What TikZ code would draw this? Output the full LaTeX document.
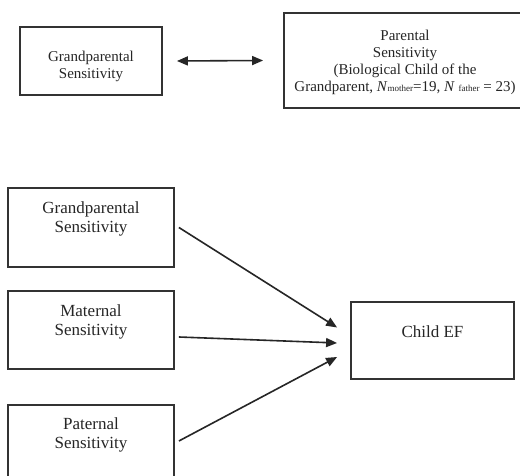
\documentclass[tikz,border=0pt]{standalone}
\usepackage{fontspec}
\setmainfont{Liberation Serif}
\usetikzlibrary{arrows.meta,calc}
\begin{document}
\begin{tikzpicture}[x=1pt,y=1pt,
  box/.style={draw=black!80, line width=1.8pt, inner sep=0pt, fill=none},
  txtsmall/.style={align=center, inner sep=0pt, text=black!85, font=\fontsize{15}{17}\selectfont},
  txtbig/.style={align=center, inner sep=0pt, text=black!85, font=\fontsize{17}{19.5}\selectfont},
  arr/.style={draw=black!85, line width=1.6pt, -{Triangle[length=11pt,width=9pt]}},
  darr/.style={draw=black!85, line width=1.6pt, {Triangle[length=11pt,width=9pt]}-{Triangle[length=11pt,width=9pt]}}
]
\useasboundingbox (0,0) rectangle (520,476);
\clip (0,0) rectangle (520,476);
\fill[white] (0,0) rectangle (520,476);
% top row
\node[box, minimum width=142pt, minimum height=68pt] (tl) at (91,415) {};
\node[txtsmall] (tlt) at (91,410) {Grandparental\\Sensitivity};
\node[box, minimum width=242pt, minimum height=95pt] (tr) at (405,415.5) {};
\node[txtsmall] (trt) at (405,414) {Parental\\Sensitivity\\(Biological Child of the\\Grandparent, \textit{N}{\fontsize{9}{9}\selectfont mother}=19, \textit{N} {\fontsize{9}{9}\selectfont father} = 23)};
\draw[darr] ([xshift=14pt]tl.east) -- ([xshift=-20pt]tr.west);
% bottom
\node[box, minimum width=166pt, minimum height=79pt] (gp) at (91,248.5) {};
\node[txtbig] (gpt) at (91,257) {Grandparental\\Sensitivity};
\node[box, minimum width=166pt, minimum height=78pt] (mat) at (91,146) {};
\node[txtbig] (matt) at (91,154) {Maternal\\Sensitivity};
\node[box, minimum width=166pt, minimum height=79pt] (pat) at (91,31.5) {};
\node[txtbig] (patt) at (91,41) {Paternal\\Sensitivity};
\node[box, minimum width=163pt, minimum height=77pt] (ef) at (432.5,135.5) {};
\node[txtbig] (eft) at (432.5,144) {Child EF};
\draw[arr] ([xshift=4pt]gp.east) -- ([xshift=-13pt,yshift=13pt]ef.west);
\draw[arr] ([xshift=4pt,yshift=-7pt]mat.east) -- ([xshift=-13pt,yshift=-2.5pt]ef.west);
\draw[arr] ([xshift=4pt,yshift=3.5pt]pat.east) -- ([xshift=-13pt,yshift=-16.5pt]ef.west);
\end{tikzpicture}
\end{document}
